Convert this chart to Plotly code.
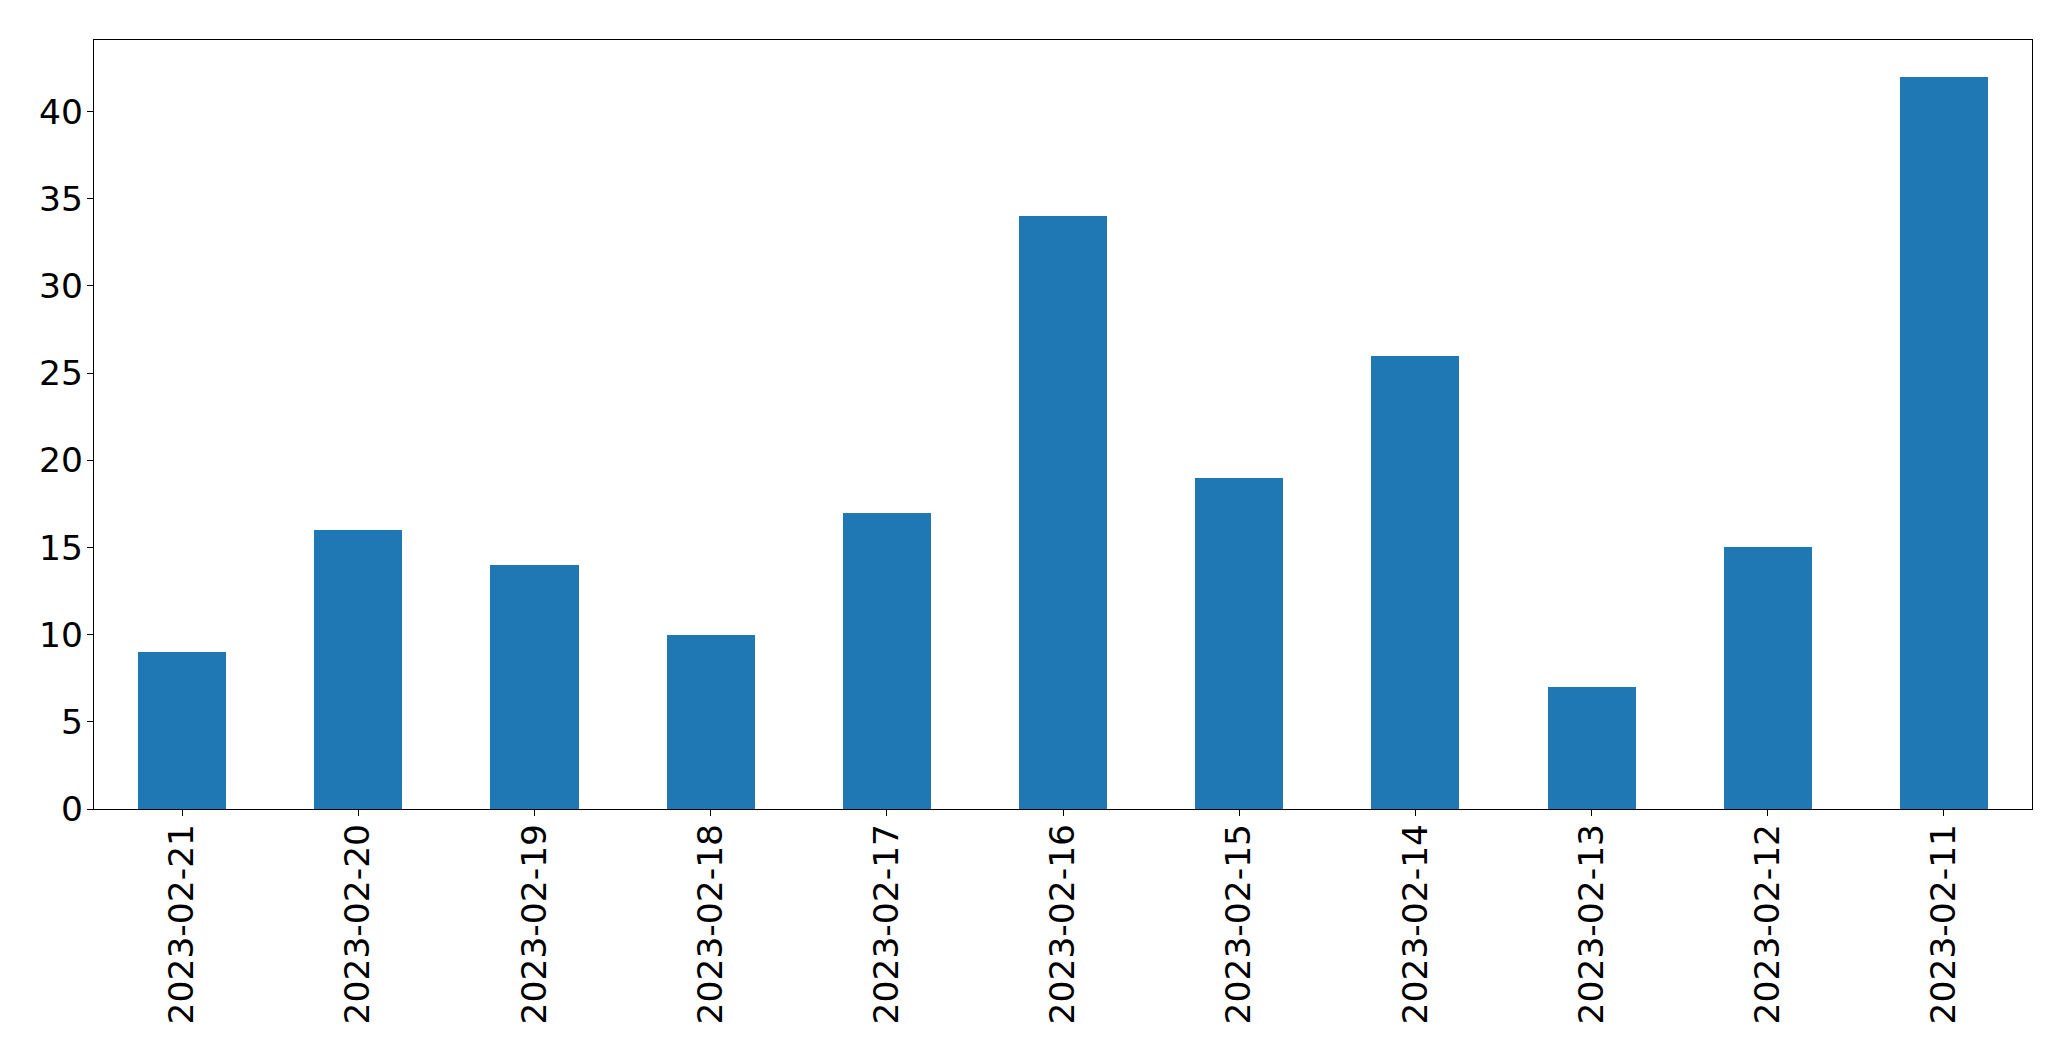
import plotly.graph_objects as go

dates = ["2023-02-21", "2023-02-20", "2023-02-19", "2023-02-18", "2023-02-17",
         "2023-02-16", "2023-02-15", "2023-02-14", "2023-02-13", "2023-02-12", "2023-02-11"]
counts = [9, 16, 14, 10, 17, 34, 19, 26, 7, 15, 42]
y_ticks = [0, 5, 10, 15, 20, 25, 30, 35, 40]

fig = go.Figure(go.Bar(x=dates, y=counts, width=0.5, marker=dict(color="#1f77b4", line=dict(width=0))))

fig.update_layout(
    width=2063, height=1053,
    margin=dict(l=86, r=39, t=32, b=252),
    plot_bgcolor="white", paper_bgcolor="white",
    font=dict(family="DejaVu Sans", size=34.5, color="black"),
    showlegend=False,
    bargap=0,
)
fig.update_xaxes(
    type="category", range=[-0.5, len(dates) - 0.5],
    tickangle=-90, showline=True, linecolor="black", linewidth=1.3, mirror=True,
    ticks="outside", ticklen=6, tickcolor="black", tickwidth=1.3,
    showgrid=False, zeroline=False, ticklabelstandoff=-6,
)
fig.update_yaxes(
    range=[0, 44.1], tickvals=y_ticks,
    showline=True, linecolor="black", linewidth=1.3, mirror=True,
    ticks="outside", ticklen=6, tickcolor="black", tickwidth=1.3,
    showgrid=False, zeroline=False, ticklabelstandoff=-3,
)

fig.write_html("out.html")
